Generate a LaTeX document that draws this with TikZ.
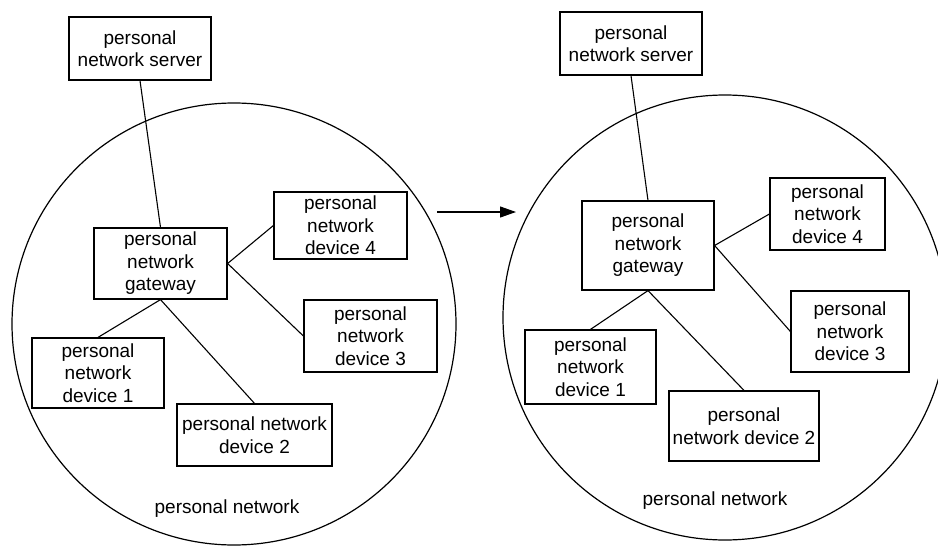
\documentclass[tikz,border=0pt]{standalone}
\usepackage{fontspec}
\setmainfont{Liberation Sans}
\usetikzlibrary{arrows.meta}
\begin{document}
\begin{tikzpicture}[x=1pt,y=-1pt,
  line width=1.2pt,
  box/.style={draw, rectangle, align=center, inner sep=0pt,
    font=\fontsize{19}{22.5}\selectfont},
  lbl/.style={font=\fontsize{19}{22.5}\selectfont, inner sep=0pt},
  link/.style={line width=1.1pt},
  net/.style={draw, line width=1.2pt}]
\useasboundingbox (0,0) rectangle (938,546);

% ---- left network ----
\draw[net] (234,324) ellipse [x radius=222, y radius=221];
\node[box, minimum width=142pt, minimum height=63pt] (srvL) at (140,48.5) {personal\\network server};
\node[box, minimum width=133pt, minimum height=71pt] (gwL) at (160.5,263.5) {personal\\network\\gateway};
\node[box, minimum width=133pt, minimum height=67pt] (d4L) at (340.5,225.5) {personal\\network\\device 4};
\node[box, minimum width=133pt, minimum height=72pt] (d3L) at (370.5,336) {personal\\network\\device 3};
\node[box, minimum width=132pt, minimum height=70pt] (d1L) at (98,373) {personal\\network\\device 1};
\node[box, minimum width=155pt, minimum height=62pt] (d2L) at (254.5,435) {personal network\\device 2};
\node[lbl] (pnL) at (227,509) {personal network};

\draw[link] (srvL.south) -- (gwL.north);
\draw[link] (gwL.east) -- (d4L.west);
\draw[link] (gwL.east) -- (d3L.west);
\draw[link] (gwL.south) -- (d1L.north);
\draw[link] (gwL.south) -- (d2L.north);

% ---- transition arrow ----
\coordinate (arrS) at (437,212);
\coordinate (arrE) at (516,212);
\draw[link, -{Triangle[length=16pt,width=11pt]}] (arrS) -- (arrE);

% ---- right network ----
\draw[net] (725,317.5) ellipse [x radius=222, y radius=222.5];
\node[box, minimum width=142pt, minimum height=63pt] (srvR) at (631,43.5) {personal\\network server};
\node[box, minimum width=132pt, minimum height=89pt] (gwR) at (648,245.5) {personal\\network\\gateway};
\node[box, minimum width=115pt, minimum height=72pt] (d4R) at (827.5,214) {personal\\network\\device 4};
\node[box, minimum width=118pt, minimum height=81pt] (d3R) at (850,331.5) {personal\\network\\device 3};
\node[box, minimum width=131pt, minimum height=74pt] (d1R) at (590.5,367) {personal\\network\\device 1};
\node[box, minimum width=150pt, minimum height=70pt] (d2R) at (744,426) {personal\\network device 2};
\node[lbl] (pnR) at (715,501) {personal network};

\draw[link] (srvR.south) -- (gwR.north);
\draw[link] (gwR.east) -- (d4R.west);
\draw[link] (gwR.east) -- (d3R.west);
\draw[link] (gwR.south) -- (d1R.north);
\draw[link] (gwR.south) -- (d2R.north);
\end{tikzpicture}
\end{document}
